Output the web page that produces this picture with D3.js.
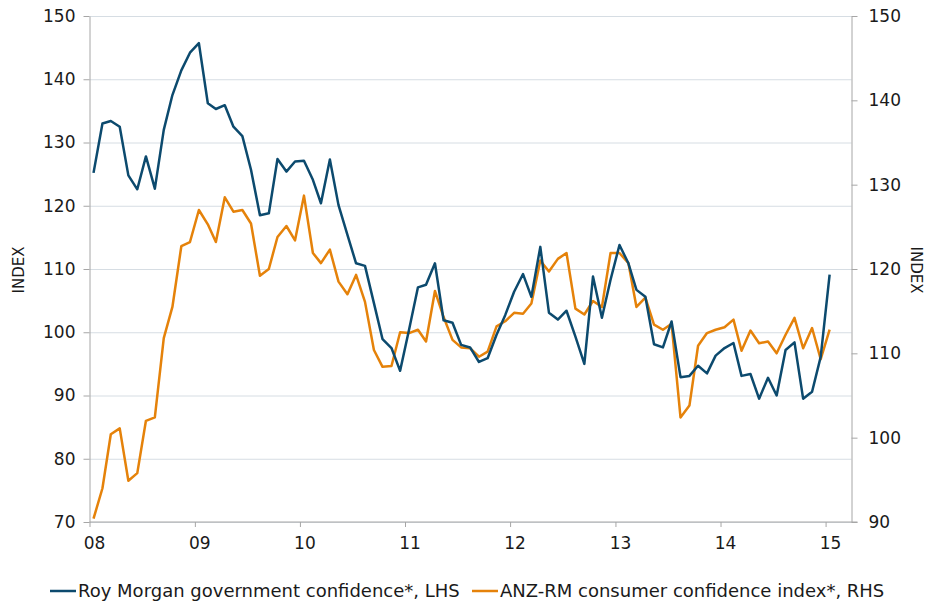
<!DOCTYPE html>
<html>
<head>
<meta charset="utf-8">
<script src="https://cdn.jsdelivr.net/npm/d3@7"></script>
<style>
  body { margin: 0; background: #fff; }
  svg text { font-family: "DejaVu Sans", Verdana, sans-serif; fill: #1a1a1a; }
  .axis path, .axis line { stroke: #a6a6a6; }
  .grid line { stroke: #d6dde3; }
  .grid path { display: none; }
</style>
</head>
<body>
<svg id="chart" width="931" height="605"></svg>
<script>
// monthly, Jan 2008 - Jan 2015
var firstMonth = "2008-01";
var govConfidence = [125.2, 133.0, 133.4, 132.5, 124.8, 122.6, 127.8, 122.7, 132.0, 137.5,
    141.4, 144.2, 145.7, 136.2, 135.3, 135.9, 132.5, 131.0, 125.7, 118.5,
    118.8, 127.4, 125.4, 127.0, 127.1, 124.1, 120.4, 127.3, 120.1, 115.4,
    110.9, 110.5, 104.6, 98.9, 97.5, 93.9, 100.4, 107.1, 107.5, 110.9,
    101.9, 101.5, 98.0, 97.6, 95.3, 95.9, 99.6, 102.7, 106.4, 109.2,
    105.6, 113.5, 103.1, 102.0, 103.4, 99.3, 95.0, 108.8, 102.3, 108.3,
    113.8, 110.9, 106.7, 105.6, 98.1, 97.6, 101.7, 92.9, 93.1, 94.7,
    93.5, 96.3, 97.5, 98.3, 93.1, 93.4, 89.5, 92.8, 90.0, 97.2,
    98.4, 89.5, 90.6, 96.1, 109.1];
var consumerConfidence = [90.4, 94.0, 100.4, 101.1, 94.9, 95.8, 102.0, 102.4, 111.8, 115.5,
    122.7, 123.2, 127.0, 125.3, 123.2, 128.5, 126.8, 127.0, 125.4, 119.2,
    120.0, 123.8, 125.1, 123.4, 128.7, 121.9, 120.7, 122.3, 118.5, 117.0,
    119.3, 116.1, 110.4, 108.4, 108.5, 112.5, 112.4, 112.8, 111.4, 117.4,
    114.3, 111.6, 110.7, 110.6, 109.6, 110.2, 113.2, 113.8, 114.8, 114.7,
    115.9, 121.0, 119.7, 121.2, 121.9, 115.3, 114.6, 116.2, 115.5, 121.9,
    121.9, 120.7, 115.5, 116.6, 113.4, 112.8, 113.5, 102.4, 103.8, 110.9,
    112.4, 112.8, 113.1, 114.0, 110.3, 112.7, 111.2, 111.4, 110.0, 112.2,
    114.2, 110.6, 113.0, 109.3, 112.8];
var leftTicks = [70, 80, 90, 100, 110, 120, 130, 140, 150];
var rightTicks = [90, 100, 110, 120, 130, 140, 150];
var seriesNames = ["Roy Morgan government confidence*, LHS", "ANZ-RM consumer confidence index*, RHS"];
var seriesColors = ["#0c4a6e", "#e5820a"];

(function() {
    var svg = d3.select('#chart');
    var mLeft = 89.5, mRight = 851.5, mTop = 16, mBottom = 522;

    var parseMonth = d3.timeParse("%Y-%m");
    var start = parseMonth(firstMonth);
    // points sit mid-month
    var dates = govConfidence.map(function(d, i) {
        return d3.timeDay.offset(d3.timeMonth.offset(start, i), 14);
    });

    var x = d3.scaleTime()
        .domain([new Date(2008, 0, 1), new Date(2015, 3, 1)])
        .range([mLeft, mRight]);
    var yL = d3.scaleLinear().domain([70, 150]).range([mBottom, mTop]);
    var yR = d3.scaleLinear().domain([90, 150]).range([mBottom, mTop]);

    // gridlines
    svg.append('g')
        .attr('class', 'grid')
        .attr('transform', 'translate(' + mLeft + ',0)')
        .call(d3.axisLeft(yL).tickValues(leftTicks).tickSize(-(mRight - mLeft)).tickFormat(''));

    svg.append('g')
        .attr('class', 'axis')
        .attr('transform', 'translate(' + mLeft + ',0)')
        .call(d3.axisLeft(yL).tickValues(leftTicks).tickSize(6).tickSizeOuter(0).tickPadding(8));
    svg.append('g')
        .attr('class', 'axis')
        .attr('transform', 'translate(' + mRight + ',0)')
        .call(d3.axisRight(yR).tickValues(rightTicks).tickSize(6).tickSizeOuter(0).tickPadding(11));
    var gX = svg.append('g')
        .attr('class', 'axis')
        .attr('transform', 'translate(0,' + mBottom + ')')
        .call(d3.axisBottom(x).ticks(d3.timeYear.every(1)).tickFormat(d3.timeFormat('%y'))
            .tickSize(5).tickSizeOuter(0).tickPadding(10));
    gX.select('.domain').attr('d', 'M' + mLeft + ',0H' + (mRight + 6));
    gX.selectAll('.tick text').attr('dx', 4.5);

    svg.selectAll('.axis text')
        .attr('font-family', null)
        .style('font-size', '17px')
        .style('fill', '#1a1a1a');

    // axis titles
    svg.append('text')
        .attr('transform', 'translate(24,270) rotate(-90)')
        .attr('text-anchor', 'middle')
        .style('font-size', '15px')
        .text('INDEX');
    svg.append('text')
        .attr('transform', 'translate(911,270) rotate(90)')
        .attr('text-anchor', 'middle')
        .style('font-size', '15px')
        .text('INDEX');

    var lineL = d3.line()
        .x(function(d, i) { return x(dates[i]); })
        .y(function(d) { return yL(d); });
    var lineR = d3.line()
        .x(function(d, i) { return x(dates[i]); })
        .y(function(d) { return yR(d); });

    svg.append('path')
        .datum(consumerConfidence)
        .attr('d', lineR)
        .attr('fill', 'none')
        .attr('stroke', seriesColors[1])
        .attr('stroke-width', 2.5)
        .attr('stroke-linejoin', 'round');
    svg.append('path')
        .datum(govConfidence)
        .attr('d', lineL)
        .attr('fill', 'none')
        .attr('stroke', seriesColors[0])
        .attr('stroke-width', 2.5)
        .attr('stroke-linejoin', 'round');

    // legend
    var legendX = [50, 472];
    var legend = svg.selectAll('.legend')
        .data(seriesNames)
        .enter()
        .append('g')
        .attr('class', 'legend')
        .attr('transform', function(d, i) { return 'translate(' + legendX[i] + ',591)'; });
    legend.append('line')
        .attr('x1', 0).attr('x2', 26)
        .attr('stroke', function(d, i) { return seriesColors[i]; })
        .attr('stroke-width', 2.5);
    legend.append('text')
        .attr('x', 28)
        .attr('y', 6)
        .style('font-size', '18px')
        .text(function(d) { return d; });
})();
</script>
</body>
</html>
